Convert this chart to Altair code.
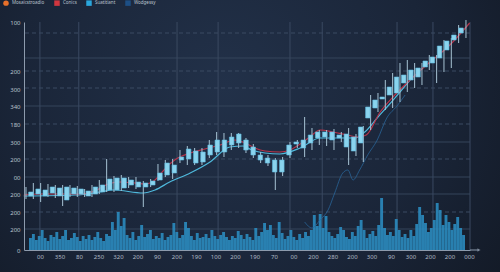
import json
import altair as alt
import pandas as pd

# ---------------- data ----------------
series_names = ["Mosaicstroadio", "Conics", "Suatitiant", "Wodgessy"]
series_colors = ["#e8702a", "#d0363f", "#2aa7dd", "#1d4f85"]

# candles (price units)
candle_high = [63, 67, 67, 66, 65, 65, 65, 64, 61, 65, 70, 91, 74, 75, 73, 73, 69, 71, 86, 90,
               91, 100, 104, 102, 102, 110, 118, 117, 117, 117, 112, 106, 98, 95, 92, 93, 108, 110, 133, 122,
               120, 120, 121, 118, 122, 116, 124, 155, 157, 170, 177, 187, 190, 187, 187, 195, 195, 210, 212, 225, 230]
candle_low = [51, 51, 48, 53, 52, 44, 53, 53, 53, 53, 56, 58, 58, 59, 62, 61, 43, 63, 69, 73,
              71, 87, 85, 85, 85, 92, 95, 93, 100, 102, 97, 92, 87, 84, 60, 74, 92, 102, 93, 100,
              105, 104, 100, 108, 85, 94, 88, 120, 138, 140, 142, 148, 158, 162, 165, 180, 167, 178, 182, 207, 212]
candle_open = [54, 56, 54, 57, 54, 50, 56, 56, 54, 56, 58, 60, 60, 62, 65, 63, 63, 65, 70, 75,
               77, 90, 91, 87, 88, 95, 98, 98, 105, 107, 100, 95, 90, 87, 78, 78, 95, 106, 102, 107,
               112, 113, 110, 112, 103, 99, 107, 132, 142, 151, 155, 157, 167, 170, 173, 183, 187, 192, 200, 210, 217]
candle_close = [58, 61, 60, 63, 62, 63, 62, 61, 59, 63, 65, 71, 72, 72, 70, 68, 67, 69, 77, 87,
                85, 93, 101, 99, 98, 105, 110, 110, 113, 116, 110, 103, 95, 92, 90, 90, 105, 108, 110, 115,
                118, 118, 118, 115, 116, 113, 123, 143, 150, 153, 163, 173, 175, 180, 182, 189, 193, 204, 209, 215, 222]

# moving-average style lines (x in candle-index units, price units)
red_x = [-0.3, 1.9, 7.2, 9.4, 11.2, 12.8, 14.9, 16.2, 17.6, 18.7, 19.6, 20.7, 22.4, 24.4, 26.5, 28.5, 29.9,
         31.2, 32.6, 34.6, 36.0, 37.4, 38.7, 40.1, 41.9, 43.8, 45.3, 46.4, 48.3, 50.3, 52.8, 55.1, 57.8, 60.5]
red_y = [55, 56, 56, 59, 66, 68, 67, 66, 70, 79, 86, 92, 97, 101, 105, 110, 107,
         102, 99, 98, 100, 106, 113, 120, 118, 115, 113, 115, 138, 155, 173, 188, 205, 227]
cyan_x = [-0.3, 6.7, 10.1, 11.9, 16.0, 17.6, 19.6, 22.4, 25.1, 27.8, 29.6, 30.8, 32.6, 34.6, 37.4, 40.1,
          42.8, 44.9, 46.2, 48.0, 49.6, 51.0, 52.6]
cyan_y = [54, 55, 58, 60, 57, 60, 68, 77, 88, 103, 104, 100, 97, 96, 102, 112,
          112, 112, 118, 133, 146, 158, 172]
dblue_x = [38.0, 39.0, 40.1, 41.2, 42.1, 43.2, 43.9, 44.6, 45.5, 46.6, 47.9, 49.2, 50.6, 51.7]
dblue_y = [28, 22, 30, 40, 57, 77, 80, 70, 80, 95, 110, 132, 144, 155]

# volume bars (same price axis, from 0)
volume = [12, 16, 10, 14, 20, 12, 9, 15, 13, 18,
          11, 14, 20, 10, 12, 17, 13, 9, 14, 11,
          15, 10, 13, 18, 12, 9, 16, 14, 28, 20,
          38, 24, 32, 15, 12, 18, 10, 14, 25, 13,
          16, 20, 11, 14, 12, 17, 10, 13, 15, 27,
          18, 12, 15, 28, 22, 14, 10, 17, 12, 13,
          16, 12, 20, 14, 11, 15, 18, 13, 10, 14,
          12, 19, 15, 11, 16, 13, 10, 22, 14, 18,
          27, 20, 25, 15, 12, 28, 17, 11, 14, 20,
          13, 10, 16, 12, 18, 14, 20, 35, 24, 36,
          22, 34, 18, 14, 12, 16, 23, 20, 13, 11,
          18, 14, 24, 30, 20, 12, 16, 19, 14, 25,
          52, 22, 15, 18, 14, 31, 20, 13, 16, 12,
          20, 14, 26, 43, 35, 27, 18, 22, 30, 47,
          40, 25, 35, 28, 20, 26, 33, 22, 15]

# axes
y_tick_values = [0, 21, 38, 56, 73, 91, 108, 126, 144, 161, 179, 228]
y_tick_labels = ["0", "200", "200", "200", "00", "200", "300", "180", "340", "300", "200", "100"]
x_tick_labels = ["00", "350", "80", "250", "320", "200", "90", "200", "190", "100", "200", "190",
                 "70", "00", "200", "280", "200", "300", "90", "300", "200", "200", "000"]
grid_dashed = [217, 179, 162, 126, 91, 38]
grid_solid = [192, 144, 108, 73, 56, 21]
grid_vertical = [1.9, 7.2, 20.6, 26.2, 36.0, 40.4, 50.6, 55.5, 60.55]

# ---------------- build ----------------
X_DOMAIN = [-0.27, 60.55]
Y_DOMAIN = [0, 228]
FONT = "Noto Sans"

x_first = 1.909
x_step = 2.659
x_tick_values = [round(x_first + x_step * k, 4) for k in range(len(x_tick_labels))]

x_axis = alt.Axis(values=x_tick_values,
                  labelExpr=f"{json.dumps(x_tick_labels)}[indexof({json.dumps(x_tick_values)}, datum.value)]",
                  grid=False, ticks=False, domainColor="#8d9bad", domainWidth=1, zindex=2,
                  labelColor="#aeb8c4", labelFontSize=6, labelPadding=3, labelFont=FONT, title=None)
y_axis = alt.Axis(values=y_tick_values,
                  labelExpr=f"{json.dumps(y_tick_labels)}[indexof({json.dumps(y_tick_values)}, datum.value)]",
                  grid=False, ticks=False, domainColor="#8d9bad", domainWidth=1, zindex=2,
                  labelColor="#b8c1cc", labelFontSize=6, labelPadding=4, labelFont=FONT, title=None)


def xs(field, axis=None):
    return alt.X(field, type="quantitative", scale=alt.Scale(domain=X_DOMAIN, nice=False, zero=False), axis=axis)


def ys(field):
    return alt.Y(field, type="quantitative", scale=alt.Scale(domain=Y_DOMAIN, nice=False), axis=y_axis)


one = pd.DataFrame({"a": [0]})

bg = alt.Chart(one).mark_rect(
    fill=alt.RadialGradient(gradient="radial", x1=0.45, y1=0.4, r1=0, x2=0.45, y2=0.4, r2=0.75,
                            stops=[alt.GradientStop(color="#223149", offset=0),
                                   alt.GradientStop(color="#1a2538", offset=0.55),
                                   alt.GradientStop(color="#111722", offset=1)])
).encode(x=alt.value(-24), x2=alt.value(476), y=alt.value(-22), y2=alt.value(250))

gd = alt.Chart(pd.DataFrame({"v": grid_dashed})).mark_rule(
    color="#3b4a62", strokeWidth=1, strokeDash=[4, 3]).encode(y=ys("v"))
gs = alt.Chart(pd.DataFrame({"v": grid_solid})).mark_rule(
    color="#35445b", strokeWidth=1).encode(y=ys("v"))
gv = alt.Chart(pd.DataFrame({"v": grid_vertical})).mark_rule(
    color="#3a4961", strokeWidth=1).encode(x=xs("v"))

vol_df = pd.DataFrame({"j": list(range(len(volume))), "vol": volume})
vol = alt.Chart(vol_df).mark_bar(size=2.9, color="#2b8dc2", opacity=0.88).encode(
    x=alt.X("j:Q", scale=alt.Scale(domain=[-0.5, len(volume) - 0.5], nice=False, zero=False), axis=None),
    y=ys("vol"))


def line_layer(xv, yv, color, width, opacity=1.0):
    df = pd.DataFrame({"x": xv, "y": yv})
    return alt.Chart(df).mark_line(color=color, strokeWidth=width, interpolate="monotone", opacity=opacity).encode(
        x=xs("x"), y=ys("y"))


dblue = line_layer(dblue_x, dblue_y, "#2a6aa0", 0.9, 0.8)
cyan = line_layer(cyan_x, cyan_y, "#4fb9dc", 1.2)
red = line_layer(red_x, red_y, "#b8344a", 1.2)

cdf = pd.DataFrame({"i": list(range(len(candle_high))), "high": candle_high, "low": candle_low,
                    "open": candle_open, "close": candle_close})
wicks = alt.Chart(cdf).mark_rule(color="#a7c3d4", strokeWidth=1).encode(
    x=xs("i", x_axis), y=ys("low"), y2="high")
bodies = alt.Chart(cdf).mark_bar(size=4.5, color="#8ad4ee", stroke="#5fb8de", strokeWidth=0.6).encode(
    x=xs("i"), y=ys("open"), y2="close")

arrow_line = alt.Chart(one).mark_rule(color="#8d9bad", strokeWidth=1).encode(
    x=alt.value(446), x2=alt.value(455), y=alt.value(228))
arrow_head = alt.Chart(one).mark_point(shape="triangle-right", filled=True, size=14, color="#8d9bad").encode(
    x=alt.value(455), y=alt.value(228))

leg_kw = dict(title=None, orient="none", legendX=-21, legendY=-22, direction="horizontal",
              labelFontSize=4.5, labelColor="#b9c2cc", labelFont=FONT, symbolSize=30,
              symbolOpacity=1, symbolStrokeWidth=0, labelOffset=3, columnPadding=9, zindex=2)
leg_df = pd.DataFrame({"series": series_names})
legend = alt.Chart(leg_df).mark_point(filled=True, opacity=0).encode(
    x=alt.value(0), y=alt.value(0),
    color=alt.Color("series:N", scale=alt.Scale(domain=series_names, range=series_colors),
                    legend=alt.Legend(**leg_kw)),
    shape=alt.Shape("series:N", scale=alt.Scale(domain=series_names, range=["circle", "square", "square", "square"]),
                    legend=alt.Legend(**leg_kw)),
)

chart = alt.layer(bg, gd, gs, gv, vol, dblue, cyan, red, wicks, bodies, arrow_line, arrow_head, legend).resolve_scale(
    x="independent"
).properties(
    width=446, height=228, autosize="none",
    padding={"left": 24, "top": 22, "right": 30, "bottom": 22},
    background="#161e2b",
).configure_view(stroke=None)

chart.save("out.html", embed_options={"renderer": "svg", "actions": False})
